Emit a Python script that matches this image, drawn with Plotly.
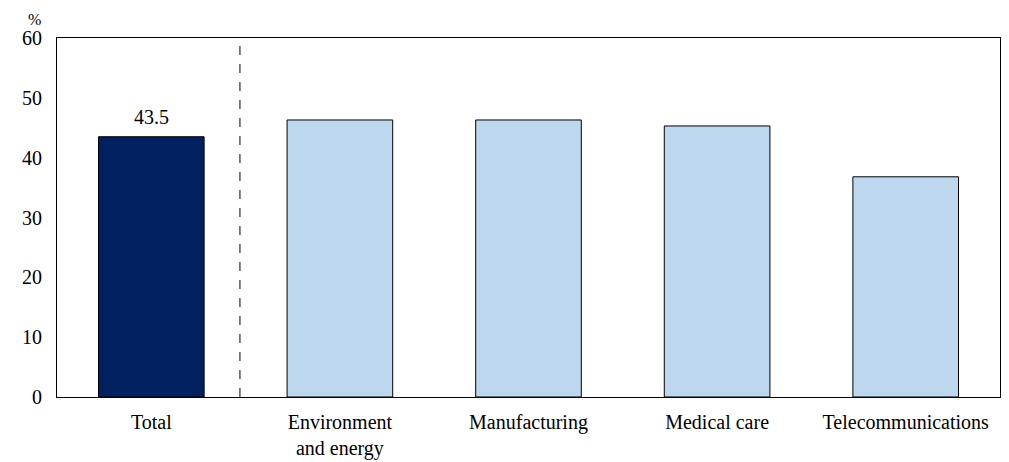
import plotly.graph_objects as go

categories = ["Total", "Environment<br>and energy", "Manufacturing", "Medical care", "Telecommunications"]
values = [43.5, 46.3, 46.3, 45.3, 36.8]
colors = ["#002060", "#BDD7EE", "#BDD7EE", "#BDD7EE", "#BDD7EE"]
y_ticks = [0, 10, 20, 30, 40, 50, 60]

FAM = "Liberation Serif, serif"
font = dict(family=FAM, size=20, color="black")

fig = go.Figure()
fig.add_trace(go.Bar(
    x=categories, y=values,
    marker=dict(color=colors, line=dict(color="black", width=1)),
    width=0.56,
    hoverinfo="skip",
))

fig.add_annotation(x=categories[0], y=values[0], text=f"{values[0]}", showarrow=False,
                   yanchor="bottom", yshift=7, font=font)
fig.add_annotation(x=0, y=1, xref="paper", yref="paper", text="%", showarrow=False,
                   xanchor="right", yanchor="bottom", xshift=-14, yshift=8,
                   font=dict(family=FAM, size=16, color="black"))

fig.add_shape(type="line", x0=0.47, x1=0.47, y0=0, y1=60, xref="x", yref="y",
              line=dict(color="black", width=1, dash="dash"))

fig.update_layout(
    width=993, height=454,
    margin=dict(l=49, r=1, t=30, b=65, autoexpand=False),
    paper_bgcolor="white", plot_bgcolor="white",
    font=font, showlegend=False,
)
fig.update_xaxes(showline=True, linecolor="black", linewidth=1, mirror=True,
                 showgrid=False, ticks="", tickfont=font, ticklabelstandoff=7,
                 automargin=False)
fig.update_yaxes(range=[0, 60], tickvals=y_ticks, showline=True, linecolor="black",
                 linewidth=1, mirror=True, showgrid=False, zeroline=False, ticks="",
                 ticklabelstandoff=10, tickfont=font, automargin=False)

fig.write_html("out.html")
